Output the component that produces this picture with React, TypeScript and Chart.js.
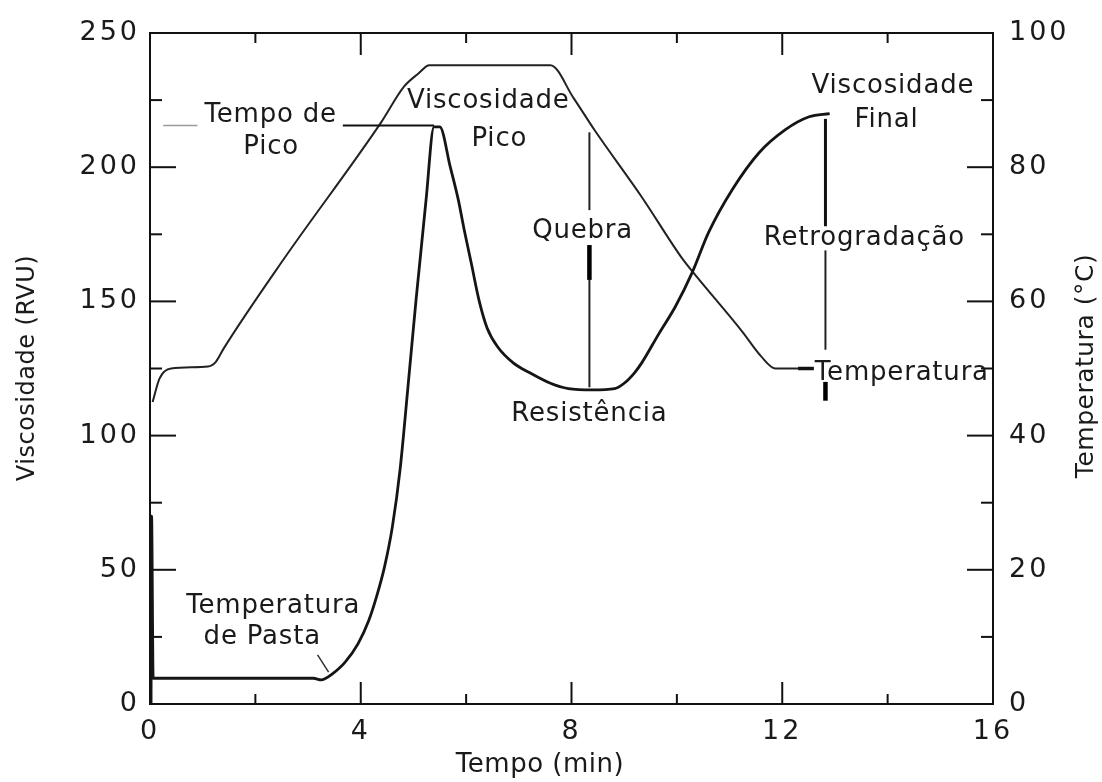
import React, { useEffect, useRef } from 'react';
import { Chart, registerables } from 'chart.js';

Chart.register(...registerables);

// ---- Data ----
const viscTime = [0.02, 0.03, 0.06, 0.2, 1.5, 3.1, 3.25, 3.32, 3.45, 3.7, 3.95, 4.15, 4.3, 4.45, 4.6, 4.75, 4.9, 5.05, 5.24, 5.39, 5.5, 5.7, 5.85, 5.96, 6.1, 6.25, 6.4, 6.6, 6.9, 7.2, 7.6, 7.94, 8.4, 8.82, 9.0, 9.2, 9.33, 9.66, 9.97, 10.29, 10.6, 11.05, 11.56, 12.06, 12.51, 12.9];
const viscValue = [0, 70, 9.6, 9.6, 9.6, 9.6, 9.0, 9.4, 11, 15.5, 22.5, 31, 40, 51, 66, 88, 119, 150.7, 187.9, 215, 215, 200, 188, 177, 164, 150, 140, 133, 127, 123.5, 119.5, 117.5, 117, 117.5, 119.5, 123.5, 127, 138, 148, 160.7, 175.6, 191.6, 205.4, 214, 218.8, 220];

const tempTime = [0.05, 0.18, 0.4, 1.1, 1.25, 1.4, 2.53, 4.38, 4.82, 5.1, 5.3, 7.6, 8.04, 8.44, 9.33, 10.1, 10.29, 11.24, 11.6, 11.87, 12.3];
const tempValue = [45, 48.5, 50, 50.3, 51, 53, 66.2, 86.6, 92, 94, 95.2, 95.2, 90.3, 85.5, 75.6, 66.4, 64.5, 55.5, 51.8, 50, 50];

const xTickValues = [0, 4, 8, 12, 16];
const leftInnerTicks = [25, 50, 75, 100, 125, 150, 175, 200, 225];
const rightInnerTicks = [10, 20, 30, 40, 50, 60, 70, 80, 90];
const timeInnerTicks = [2, 4, 6, 8, 10, 12, 14];

// annotation texts, anchored in data units (time, viscosity)
const labelTexts = ['Tempo de', 'Pico', 'Viscosidade', 'Pico', 'Quebra', 'Resistência', 'Viscosidade', 'Final', 'Retrogradação', 'Temperatura', 'Temperatura', 'de Pasta'];
const labelTime = [2.29, 2.3, 6.42, 6.63, 8.21, 8.34, 14.1, 13.98, 13.56, 14.27, 2.34, 2.13];
const labelVisc = [219.5, 207.5, 224.5, 210.5, 176, 108, 230, 217.6, 173.6, 123.3, 36.5, 25];

// guide segments in data units
const guideAxis = ['y', 'y', 'y', 'y', 'y', 'y', 'y', 'y', 'y', 'y2'];
const guideT1 = [0.25, 3.66, 8.34, 8.34, 8.34, 12.82, 12.82, 12.82, 3.18, 12.3];
const guideV1 = [215.5, 215.5, 213, 171, 158, 218, 169, 120, 18.3, 50];
const guideT2 = [0.9, 5.39, 8.34, 8.34, 8.34, 12.82, 12.82, 12.82, 3.39, 12.6];
const guideV2 = [215.5, 215.5, 184, 158, 118, 178, 132, 113, 11.9, 50];
const guideWidth = [1.5, 2, 2, 4.5, 2, 3, 2, 4.5, 1.5, 3.5];
const guideColor = ['#9a9a9a', '#111', '#222', '#000', '#222', '#111', '#222', '#000', '#333', '#111'];

const FONT = "'DejaVu Sans', 'Liberation Sans', sans-serif";
const INK = '#1a1a1a';

const decorPlugin = {
  id: 'rvaDecor',
  beforeDraw(chart: any) {
    (chart.ctx as any).letterSpacing = '3px';
  },
  afterDraw(chart: any) {
    (chart.ctx as any).letterSpacing = '0px';
  },
  afterDatasetsDraw(chart: any) {
    const { ctx, chartArea: a, scales } = chart;
    const sx = scales.x;
    const sy = scales.y;
    const sy2 = scales.y2;
    ctx.save();
    ctx.lineCap = 'butt';

    // frame
    ctx.strokeStyle = '#111';
    ctx.lineWidth = 2;
    ctx.strokeRect(a.left, a.top, a.right - a.left, a.bottom - a.top);

    const seg = (x1: number, y1: number, x2: number, y2: number) => {
      ctx.beginPath();
      ctx.moveTo(x1, y1);
      ctx.lineTo(x2, y2);
      ctx.stroke();
    };

    ctx.lineWidth = 2;
    leftInnerTicks.forEach((v) => {
      const py = sy.getPixelForValue(v);
      seg(a.left, py, a.left + (v % 50 === 0 ? 26 : 12), py);
    });
    rightInnerTicks.forEach((v) => {
      const py = sy2.getPixelForValue(v);
      seg(a.right, py, a.right - (v % 20 === 0 ? 26 : 12), py);
    });
    timeInnerTicks.forEach((t) => {
      const px = sx.getPixelForValue(t);
      const len = t % 4 === 0 ? 22 : 10;
      seg(px, a.top, px, a.top + len);
      seg(px, a.bottom, px, a.bottom - len);
    });

    // guide segments
    guideT1.forEach((t1, i) => {
      const ys = guideAxis[i] === 'y2' ? sy2 : sy;
      ctx.strokeStyle = guideColor[i];
      ctx.lineWidth = guideWidth[i];
      seg(sx.getPixelForValue(t1), ys.getPixelForValue(guideV1[i]), sx.getPixelForValue(guideT2[i]), ys.getPixelForValue(guideV2[i]));
    });

    // annotation texts
    ctx.letterSpacing = '0.8px';
    ctx.fillStyle = INK;
    ctx.font = `26px ${FONT}`;
    ctx.textAlign = 'center';
    ctx.textBaseline = 'middle';
    labelTexts.forEach((txt, i) => {
      ctx.fillText(txt, sx.getPixelForValue(labelTime[i]), sy.getPixelForValue(labelVisc[i]));
    });

    // x-axis title
    ctx.letterSpacing = '0.5px';
    ctx.font = `26px ${FONT}`;
    ctx.fillText('Tempo (min)', 540, 765);

    // left axis title
    ctx.save();
    ctx.translate(28, 368);
    ctx.rotate(-Math.PI / 2);
    ctx.font = `24px ${FONT}`;
    ctx.fillText('Viscosidade (RVU)', 0, 0);
    ctx.restore();

    // right axis title (reads bottom to top)
    ctx.save();
    ctx.translate(1086, 366);
    ctx.rotate(-Math.PI / 2);
    ctx.font = `25px ${FONT}`;
    ctx.fillText('Temperatura (°C)', 0, 0);
    ctx.restore();

    ctx.restore();
  },
};

export default function App() {
  const canvasRef = useRef<HTMLCanvasElement | null>(null);

  useEffect(() => {
    const canvas = canvasRef.current;
    if (!canvas) return;
    const tickFont = { family: FONT, size: 27 };
    const chart = new Chart(canvas, {
      type: 'line',
      data: {
        datasets: [
          {
            label: 'Viscosidade',
            data: viscTime.map((t, i) => ({ x: t, y: viscValue[i] })),
            yAxisID: 'y',
            borderColor: '#151515',
            borderWidth: 2.8,
            pointRadius: 0,
            cubicInterpolationMode: 'monotone',
            fill: false,
          },
          {
            label: 'Temperatura',
            data: tempTime.map((t, i) => ({ x: t, y: tempValue[i] })),
            yAxisID: 'y2',
            borderColor: '#222',
            borderWidth: 2,
            pointRadius: 0,
            cubicInterpolationMode: 'monotone',
            fill: false,
          },
        ],
      },
      options: {
        animation: false,
        responsive: false,
        layout: { padding: { top: 33, left: 0, right: 0, bottom: 0 } },
        plugins: { legend: { display: false }, tooltip: { enabled: false } },
        scales: {
          x: {
            type: 'linear',
            position: 'bottom',
            min: 0,
            max: 16,
            afterBuildTicks: (s: any) => {
              s.ticks = xTickValues.map((v) => ({ value: v }));
            },
            ticks: { font: tickFont, color: INK, padding: 12, maxRotation: 0, autoSkip: false },
            grid: { display: false, drawTicks: false },
            border: { display: false },
            afterFit: (s: any) => {
              s.height = 78;
            },
          },
          y: {
            type: 'linear',
            position: 'left',
            min: 0,
            max: 250,
            ticks: { stepSize: 50, font: tickFont, color: INK, padding: 10 },
            grid: { display: false, drawTicks: false },
            border: { display: false },
            afterFit: (s: any) => {
              s.width = 150;
            },
          },
          y2: {
            type: 'linear',
            position: 'right',
            min: 0,
            max: 100,
            ticks: { stepSize: 20, font: tickFont, color: INK, padding: 16 },
            grid: { display: false, drawTicks: false },
            border: { display: false },
            afterFit: (s: any) => {
              s.width = 109;
            },
          },
        },
      },
      plugins: [decorPlugin],
    } as any);
    return () => chart.destroy();
  }, []);

  return (
    <div style={{ position: 'absolute', left: 0, top: 0, width: 1102, height: 782, background: '#fff' }}>
      <canvas ref={canvasRef} width={1102} height={782} style={{ display: 'block' }} />
    </div>
  );
}
